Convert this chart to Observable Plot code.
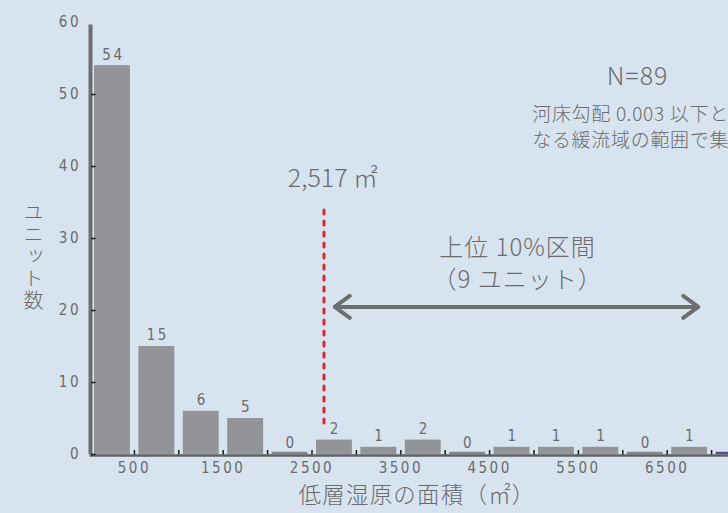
<!DOCTYPE html>
<html><head><meta charset="utf-8">
<script src="https://cdn.jsdelivr.net/npm/d3@7"></script>
<script src="https://cdn.jsdelivr.net/npm/@observablehq/plot@0.6"></script>
<style>
html,body{margin:0;padding:0;background:#d7e3ef;overflow:hidden;width:728px;height:513px;}
.num text{letter-spacing:2.5px;}
.sp1 text{letter-spacing:1px;}
.sp05 text{letter-spacing:0.7px;}
.sp12 text{letter-spacing:1.2px;}
.vert text{writing-mode:vertical-rl;text-orientation:upright;letter-spacing:2px;}
</style></head><body><div id="chart"></div>
<script>
// ---- data ----
const binStarts = [0,500,1000,1500,2000,2500,3000,3500,4000,4500,5000,5500,6000,6500,7000];
const binWidth = 500;
const counts = [54,15,6,5,0,2,1,2,0,1,1,1,0,1,0];
const xTickLabels = [500,1500,2500,3500,4500,5500,6500];
const yTicks = [0,10,20,30,40,50,60];
const xTitle = "低層湿原の面積（㎡）";
const yTitle = "ユニット数";
const nLabel = "N=89";
const noteText = "河床勾配 0.003 以下と\nなる緩流域の範囲で集計";
const thresholdLabel = "2,517 ㎡";
const thresholdX = 2635;          // drawn position of the dashed line
const thresholdSpan = [4.3, 34.6];
const rangeLabel = "上位 10%区間\n（9 ユニット）";
const rangeArrow = {x1: 2755, x2: 6850, y: 20.5};

const data = binStarts.map((x0, i) => ({x0, x1: x0 + binWidth, count: counts[i]}));
const boundaries = binStarts.slice(1).concat([7500]);

const gray = "#6b6b6b";
const numFont = "'Liberation Sans Narrow','DejaVu Sans Condensed',Roboto,sans-serif";
const jpFont = "'Noto Sans CJK JP','Noto Sans',sans-serif";

const upTick = {draw(ctx){ ctx.moveTo(0,0); ctx.lineTo(0,-4.5); }};
const rightTick = {draw(ctx){ ctx.moveTo(0,0); ctx.lineTo(4.5,0); }};

const chart = Plot.plot({
  width: 728, height: 513,
  marginLeft: 89.5, marginRight: 0, marginTop: 22, marginBottom: 59,
  x: {domain: [0, 7500], range: [89.5, 755.5]},
  y: {domain: [0, 60], range: [454, 22]},
  style: {background: "#d7e3ef", overflow: "hidden", fontFamily: jpFont},
  marks: [
    Plot.rectY(data.filter(d => d.count > 0), {x1: "x0", x2: "x1", y: "count", fill: "#939497", insetLeft: 4.5, insetRight: 4}),
    Plot.ruleY(data.filter(d => d.count === 0), {x1: d => d.x0, x2: d => d.x1, y: 0, dy: -1.5, strokeWidth: 2.5,
      stroke: d => d.x0 >= 7000 ? "#4a5394" : "#85868a", insetLeft: 4.5, insetRight: 4}),
    Plot.text(data.filter(d => d.x1 <= 7000), {x: d => d.x0 + binWidth / 2, y: "count", text: d => String(d.count), dy: -11, dx: 1.2,
      fontSize: 15, fill: gray, fontFamily: numFont, className: "num"}),
    // axes lines
    Plot.ruleY([0], {stroke: "#5f6062", strokeWidth: 2.5, dy: 1}),
    Plot.ruleX([0], {y1: 0, y2: 60, stroke: "#6d6e70", strokeWidth: 4, dx: 0.5, insetBottom: -2.5}),
    // tick marks
    Plot.dot(boundaries, {x: d => d, y: 0, symbol: upTick, r: 3, stroke: "#1a1a1a", strokeWidth: 1.5, fill: "none"}),
    Plot.dot(yTicks.slice(0, -1), {x: 0, y: d => d, symbol: rightTick, r: 3, stroke: "#1a1a1a", strokeWidth: 1.5, fill: "none", dx: 1}),
    // tick labels
    Plot.axisY({ticks: yTicks, tickSize: 0, tickPadding: 9, label: null, fontSize: 15, fill: gray,
      fontFamily: numFont, className: "num", tickFormat: d => String(d)}),
    Plot.axisX({ticks: xTickLabels, tickSize: 0, tickPadding: 8, label: null, fontSize: 15, fill: gray,
      fontFamily: numFont, className: "num", tickFormat: d => String(d)}),
    // titles
    Plot.text([xTitle], {x: 3683, frameAnchor: "bottom", dy: 48, text: d => d, fontSize: 22.5, fill: gray, fontWeight: 300, className: "sp12"}),
    Plot.text([yTitle], {frameAnchor: "left", textAnchor: "middle", y: 28.3, dx: -56.5, text: d => d, fontSize: 20, fill: gray, fontWeight: 300, className: "vert"}),
    // annotations
    Plot.ruleX([thresholdX], {y1: thresholdSpan[0], y2: thresholdSpan[1], stroke: "#d52a33", strokeWidth: 3,
      strokeDasharray: "4,7", strokeLinecap: "round"}),
    Plot.text([thresholdLabel], {x: thresholdX, y: 38.3, dx: 9, text: d => d, fontSize: 25, fill: gray, fontWeight: 300}),
    Plot.text([nLabel], {x: 6166, y: 52.5, text: d => d, fontSize: 25, fill: gray, fontWeight: 300, className: "sp1"}),
    Plot.text([noteText], {x: 4980, y: 45.7, text: d => d, textAnchor: "start", fontSize: 19, lineHeight: 1.38, fill: gray, fontWeight: 300, className: "sp05"}),
    Plot.text([rangeLabel], {x: 4815, y: 26.8, text: d => d, fontSize: 24, lineHeight: 1.33, fill: gray, fontWeight: 300, className: "sp1"}),
    Plot.arrow([rangeArrow], {x1: d => (d.x1 + d.x2) / 2, x2: "x1", y1: "y", y2: "y", stroke: "#6d6e70", strokeWidth: 4, headLength: 7, headAngle: 72}),
    Plot.arrow([rangeArrow], {x1: d => (d.x1 + d.x2) / 2, x2: "x2", y1: "y", y2: "y", stroke: "#6d6e70", strokeWidth: 4, headLength: 7, headAngle: 72})
  ]
});
document.getElementById("chart").appendChild(chart);
</script>
</body></html>
